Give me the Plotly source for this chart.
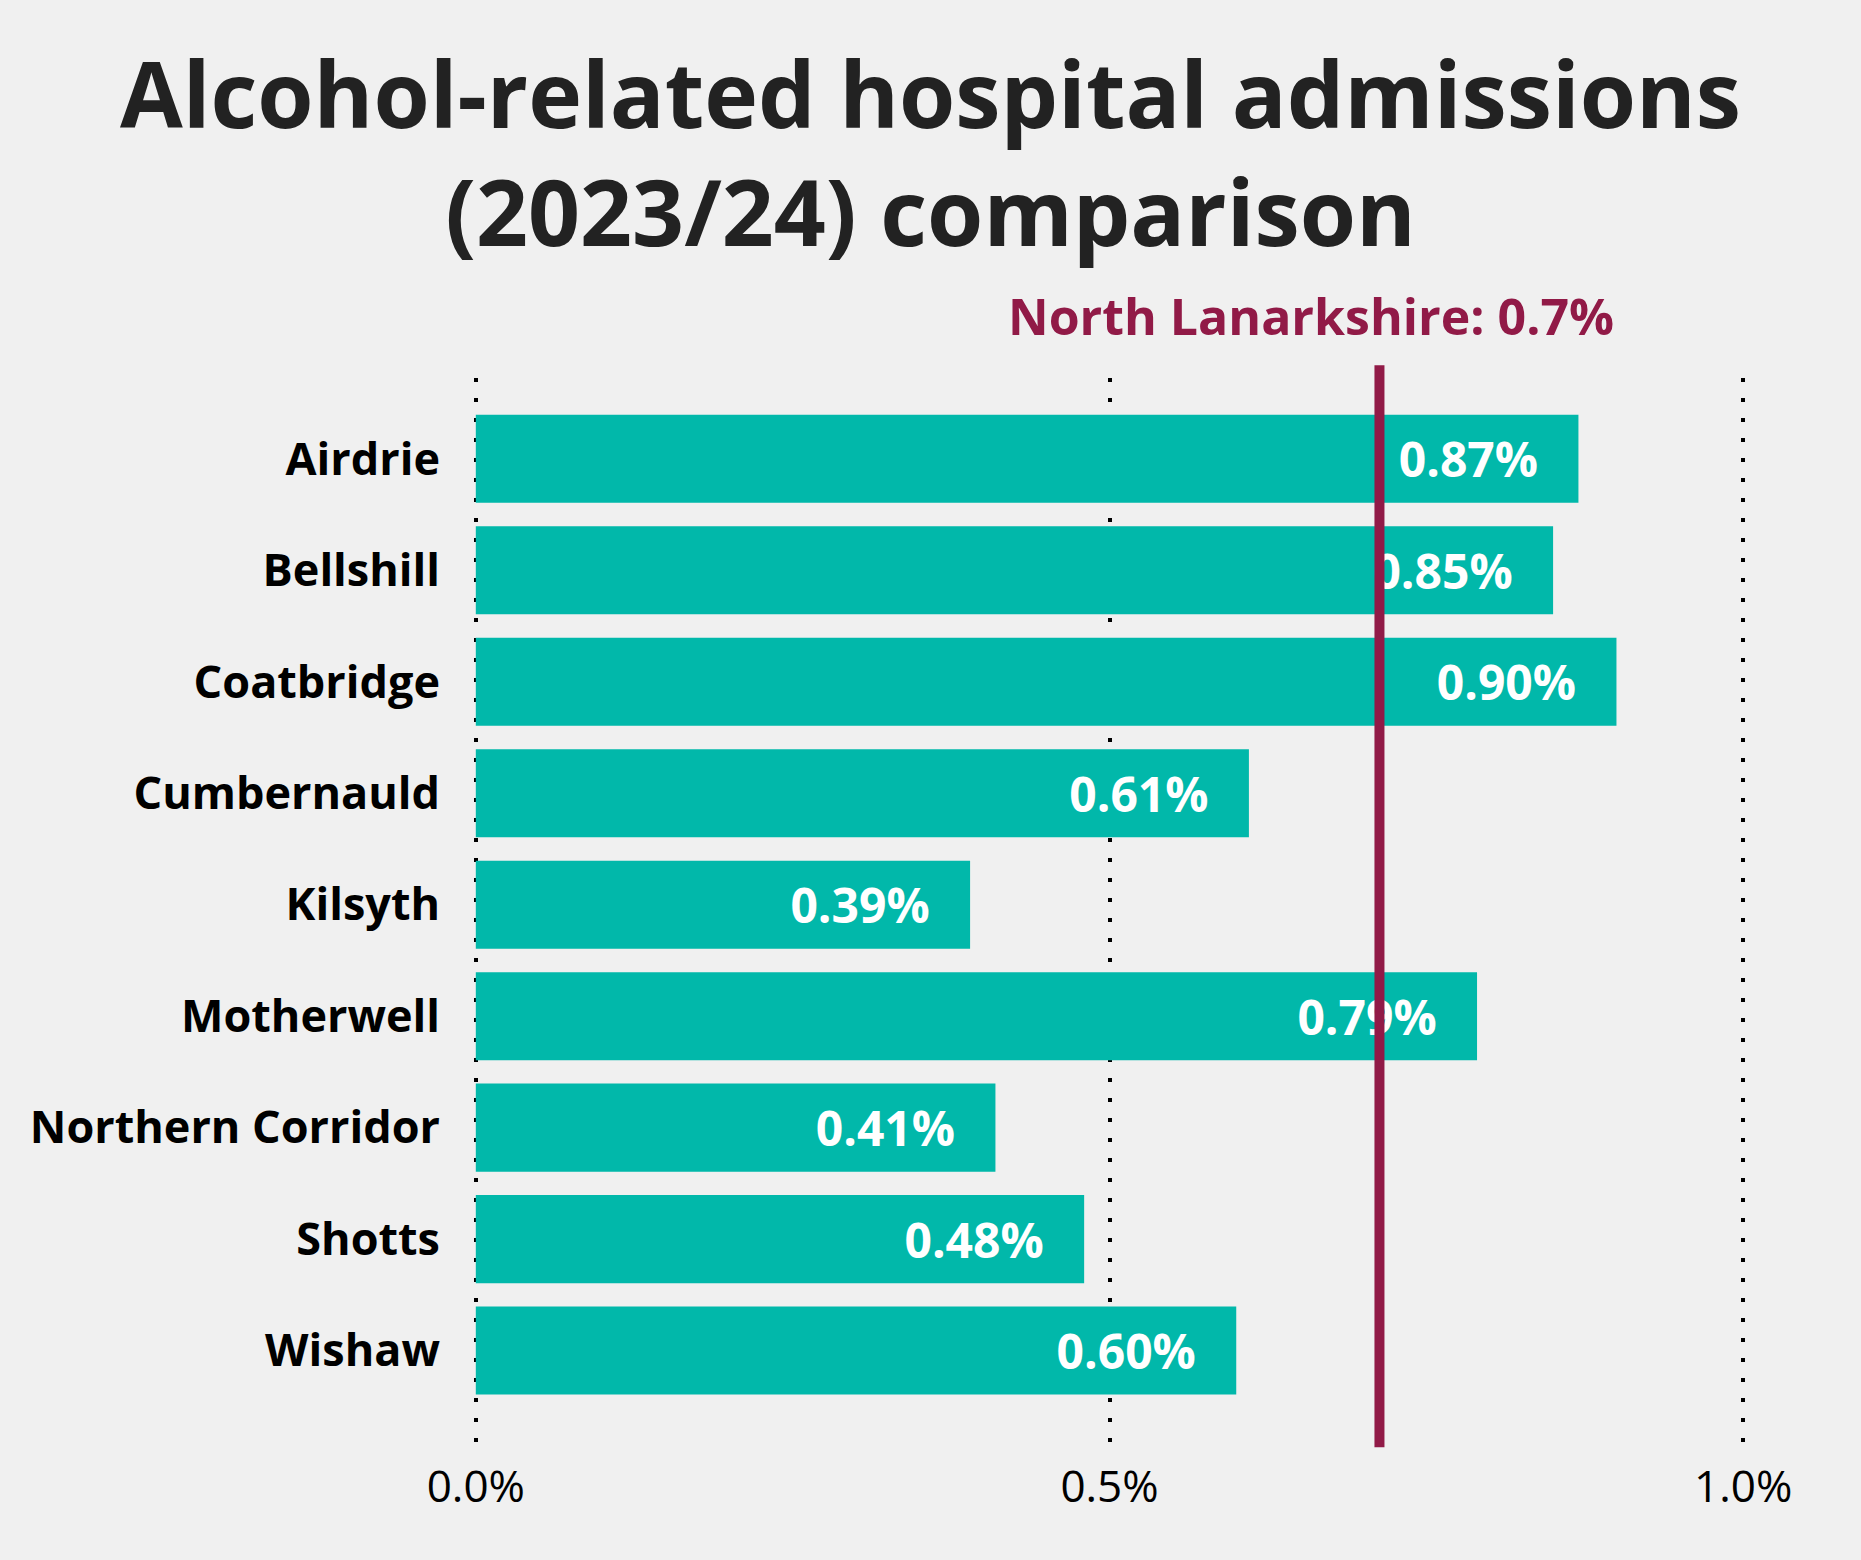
import plotly.graph_objects as go

areas = ["Airdrie", "Bellshill", "Coatbridge", "Cumbernauld", "Kilsyth",
         "Motherwell", "Northern Corridor", "Shotts", "Wishaw"]
admissions = [0.87, 0.85, 0.90, 0.61, 0.39, 0.79, 0.41, 0.48, 0.60]
nl_name = "North Lanarkshire"
nl_value = 0.713
x_ticks = [0.0, 0.5, 1.0]

BG = "#F0F0F0"
TEAL = "#01B8AA"
MAROON = "#911A47"
FONT = "Open Sans"

fig = go.Figure()
fig.add_trace(go.Bar(
    x=admissions, y=areas, orientation="h",
    marker=dict(color=TEAL, line=dict(width=0)),
    text=[f"{v:.2f}%" + "\u00a0" * 3 for v in admissions],
    textposition="inside", insidetextanchor="end",
    textfont=dict(family=FONT, size=48, color="white", weight="bold"),
    hoverinfo="skip",
))

# North Lanarkshire reference line
fig.add_shape(type="line", xref="x", yref="paper",
              x0=nl_value, x1=nl_value, y0=-0.005, y1=1.012,
              line=dict(color=MAROON, width=10), layer="above")
fig.add_annotation(x=nl_value, xref="x", y=1.058, yref="paper",
                   text=f"{nl_name}: {nl_value:.1f}%", showarrow=False,
                   xanchor="center", yanchor="middle", xshift=-68,
                   font=dict(family=FONT, size=50, color=MAROON, weight="bold"))

fig.update_layout(
    title=dict(text="Alcohol-related hospital admissions<br>(2023/24) comparison",
               x=0.5, xanchor="center", xref="container",
               y=0.918, yanchor="top", yref="container",
               font=dict(family=FONT, size=91, color="#222222", weight="bold")),
    width=1861, height=1560,
    paper_bgcolor=BG, plot_bgcolor=BG,
    margin=dict(l=472, r=114, t=378, b=118),
    bargap=0.21, showlegend=False,
    xaxis=dict(range=[-0.003, 1.003], tickvals=x_ticks,
               ticktext=[f"{v:.1f}%" for v in x_ticks],
               showgrid=True, gridcolor="black", gridwidth=4, griddash="4px,16px",
               zeroline=False, showline=False, ticks="",
               ticklabelstandoff=15,
               tickfont=dict(family=FONT, size=44, color="black")),
    yaxis=dict(categoryorder="array", categoryarray=areas,
               range=[8.82, -0.725], showgrid=False, zeroline=False,
               showline=False, ticks="", ticklabelstandoff=31,
               tickfont=dict(family=FONT, size=45, color="black", weight="bold")),
)

fig.write_html("out.html", config={"displayModeBar": False},
               post_script="document.body.style.margin='0';")
